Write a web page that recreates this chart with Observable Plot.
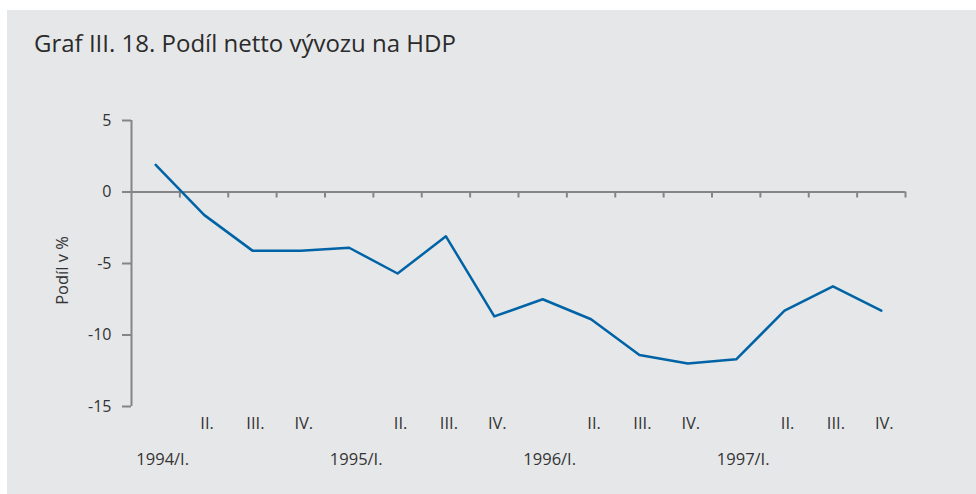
<!DOCTYPE html>
<html>
<head>
<meta charset="utf-8">
<script src="https://cdn.jsdelivr.net/npm/d3@7"></script>
<script src="https://cdn.jsdelivr.net/npm/@observablehq/plot@0.6"></script>
<style>
  html, body { margin: 0; padding: 0; background: #ffffff; width: 976px; height: 494px; overflow: hidden; }
  #panel { position: absolute; left: 7px; top: 10px; width: 969px; height: 484px; background: #e6e7e9; }
  #title { position: absolute; left: 34px; top: 27px; font-family: "Open Sans", sans-serif; font-size: 24px; line-height: 1.3; color: #2b2b2b; white-space: nowrap; }
  #chart { position: absolute; left: 0; top: 80px; }
</style>
</head>
<body>
<div id="panel"></div>
<div id="title">Graf III. 18. Podíl netto vývozu na HDP</div>
<div id="chart"></div>
<script>
const years = ["1994", "1995", "1996", "1997"];
const quarterNames = ["I.", "II.", "III.", "IV."];
const values = [1.9, -1.6, -4.1, -4.1, -3.9, -5.7, -3.1, -8.7, -7.5, -8.9, -11.4, -12.0, -11.7, -8.3, -6.6, -8.3];
const yTicks = [5, 0, -5, -10, -15];

const rows = [];
years.forEach((yr, yi) => quarterNames.forEach((q, qi) => {
  const i = yi * 4 + qi;
  rows.push({ i, x: i + 0.5, year: yr, q, qi, value: values[i] });
}));
const boundaries = d3.range(1, rows.length + 1);

const gray = "#858585";
const textColor = "#333333";
const font = "Open Sans, sans-serif";

const plot = Plot.plot({
  width: 976,
  height: 414,
  marginLeft: 131,
  marginRight: 71,
  marginTop: 40,
  marginBottom: 88,
  style: { background: "transparent", fontFamily: font, color: textColor },
  x: { type: "linear", domain: [0, rows.length], axis: null },
  y: { domain: [-15, 5] },
  marks: [
    Plot.axisY({
      ticks: yTicks, tickSize: 9, tickPadding: 11, fontSize: 16,
      stroke: gray, strokeWidth: 2, strokeOpacity: 1,
      tickFormat: d => String(d), label: null, fill: textColor
    }),
    Plot.text(["Podíl v %"], {
      frameAnchor: "left", textAnchor: "middle", dx: -69, dy: 7, rotate: -90, fontSize: 16.5, fill: textColor
    }),
    Plot.ruleX([0], { y1: 5, y2: -15, stroke: gray, strokeWidth: 2 }),
    Plot.ruleY([0], { stroke: gray, strokeWidth: 2 }),
    Plot.ruleX(boundaries, { y1: 0, y2: -0.42, stroke: gray, strokeWidth: 2 }),
    Plot.line(rows, { x: "x", y: "value", stroke: "#0063a6", strokeWidth: 2.5, curve: "linear" }),
    Plot.text(rows.filter(d => d.qi > 0), {
      x: "x", text: "q", frameAnchor: "bottom", dy: 22, dx: 3, fontSize: 16.5, fill: textColor
    }),
    Plot.text(rows.filter(d => d.qi === 0), {
      x: "x", text: d => d.year + "/" + d.q, frameAnchor: "bottom", dy: 58, dx: 7, fontSize: 16.5, fill: textColor
    })
  ]
});
document.getElementById("chart").appendChild(plot);
</script>
</body>
</html>
